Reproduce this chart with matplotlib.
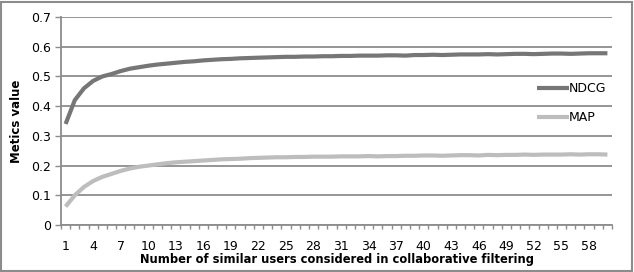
import matplotlib
matplotlib.use("Agg")
import matplotlib.pyplot as plt
from matplotlib.patches import Rectangle

# number of similar users (categories 1..60)
users = list(range(1, 61))

ndcg = [0.340, 0.420, 0.460, 0.485, 0.500, 0.508, 0.518, 0.526, 0.531, 0.536,
        0.540, 0.543, 0.546, 0.549, 0.551, 0.554, 0.556, 0.558, 0.559, 0.561,
        0.562, 0.563, 0.564, 0.565, 0.566, 0.566, 0.567, 0.567, 0.568, 0.568,
        0.569, 0.569, 0.570, 0.570, 0.570, 0.571, 0.571, 0.570, 0.572, 0.572,
        0.573, 0.572, 0.573, 0.574, 0.574, 0.574, 0.575, 0.574, 0.575, 0.576,
        0.576, 0.575, 0.576, 0.577, 0.577, 0.576, 0.577, 0.578, 0.578, 0.578]

map_vals = [0.062, 0.100, 0.128, 0.148, 0.162, 0.172, 0.182, 0.190, 0.196, 0.200,
            0.204, 0.208, 0.211, 0.213, 0.215, 0.217, 0.219, 0.221, 0.222, 0.223,
            0.225, 0.226, 0.227, 0.228, 0.228, 0.229, 0.229, 0.230, 0.230, 0.230,
            0.231, 0.231, 0.231, 0.232, 0.231, 0.232, 0.232, 0.233, 0.233, 0.234,
            0.234, 0.233, 0.234, 0.235, 0.235, 0.234, 0.236, 0.235, 0.236, 0.236,
            0.237, 0.236, 0.237, 0.237, 0.237, 0.238, 0.237, 0.238, 0.238, 0.237]

tick_labels = list(range(1, 61, 3))

grid_col = '#8c8c8c'

fig = plt.figure(figsize=(6.34, 2.72), dpi=100)
ax = fig.add_axes([61 / 634, 1 - 225 / 272, 551 / 634, 208 / 272])

ax.plot(users, ndcg, color='#767676', lw=3.0, label='NDCG', solid_capstyle='butt')
ax.plot(users, map_vals, color='#bdbdbd', lw=3.0, label='MAP', solid_capstyle='butt')

ax.set_xlim(0.5, 60.5)
ax.set_ylim(0, 0.7)
ax.set_yticks([0, 0.1, 0.2, 0.3, 0.4, 0.5, 0.6, 0.7])
ax.set_yticklabels(['0', '0.1', '0.2', '0.3', '0.4', '0.5', '0.6', '0.7'])
ax.set_xticks(tick_labels)
ax.set_xticklabels([str(t) for t in tick_labels])
ax.set_xticks([u - 0.5 for u in users] + [60.5], minor=True)

ax.tick_params(axis='x', which='major', length=0, pad=11, labelsize=9)
ax.tick_params(axis='x', which='minor', length=3, color=grid_col, width=1)
ax.tick_params(axis='y', length=4, color=grid_col, width=1, labelsize=9, pad=3)

ax.grid(axis='y', color=grid_col, lw=1.3)
ax.set_axisbelow(True)
for s in ['top', 'right']:
    ax.spines[s].set_visible(False)
for s in ['left', 'bottom']:
    ax.spines[s].set_color(grid_col)
    ax.spines[s].set_linewidth(1.3)

ax.set_ylabel('Metics value', fontsize=8.5, fontweight='bold', labelpad=6)
ax.set_xlabel('Number of similar users considered in collaborative filtering',
              fontsize=8.3, fontweight='bold', labelpad=0)

ax.legend(loc='center left', bbox_to_anchor=(0.843, 0.585), frameon=False,
          fontsize=9, handlelength=2.6, handletextpad=0.0, labelspacing=1.3)

fig.patches.append(Rectangle((0.002, 0.004), 0.995, 0.99, transform=fig.transFigure,
                             fill=False, edgecolor=grid_col, lw=1.5))

fig.savefig('out.png', dpi=100)
